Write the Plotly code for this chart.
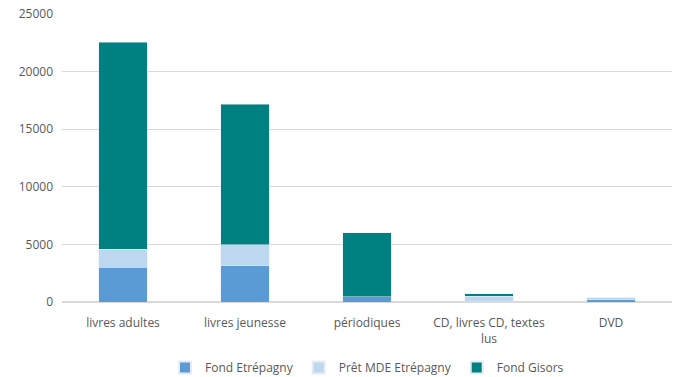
import plotly.graph_objects as go

categories = ["livres adultes", "livres jeunesse", "périodiques", "CD, livres CD, textes<br>lus", "DVD"]
fond_etrepagny = [3000, 3150, 450, 40, 200]
pret_mde = [1600, 1800, 0, 460, 150]
fond_gisors = [17950, 12200, 5550, 220, 0]

fig = go.Figure()
fig.add_bar(name="Fond Etrépagny", x=categories, y=fond_etrepagny, marker_color="#5B9BD5")
fig.add_bar(name="Prêt MDE Etrépagny", x=categories, y=pret_mde, marker_color="#BDD7EE")
fig.add_bar(name="Fond Gisors", x=categories, y=fond_gisors, marker_color="#008080")

fig.update_layout(
    barmode="stack",
    bargap=0.6,
    width=679, height=377,
    margin=dict(l=62, r=7, t=14, b=75, autoexpand=False),
    paper_bgcolor="white", plot_bgcolor="white",
    font=dict(family="Open Sans, Liberation Sans, sans-serif", size=12, color="#595959"),
    legend=dict(orientation="h", x=0.5, xanchor="center", yref="container", y=0.025, yanchor="middle",
                font=dict(size=12, color="#595959"), traceorder="normal",
                itemwidth=30, itemsizing="constant"),
    showlegend=True,
)
fig.update_yaxes(range=[0, 25000], dtick=5000,
                 showgrid=True, gridcolor="#D9D9D9",
                 zeroline=True, zerolinecolor="#D9D9D9", tickformat="d", ticks="",
                 ticklabelstandoff=8, automargin=False)
fig.update_xaxes(showline=False, ticks="", tickangle=0, ticklabelstandoff=12, automargin=False)

fig.write_html("out.html", config={"displayModeBar": False},
               post_script="document.body.style.margin='0';")
